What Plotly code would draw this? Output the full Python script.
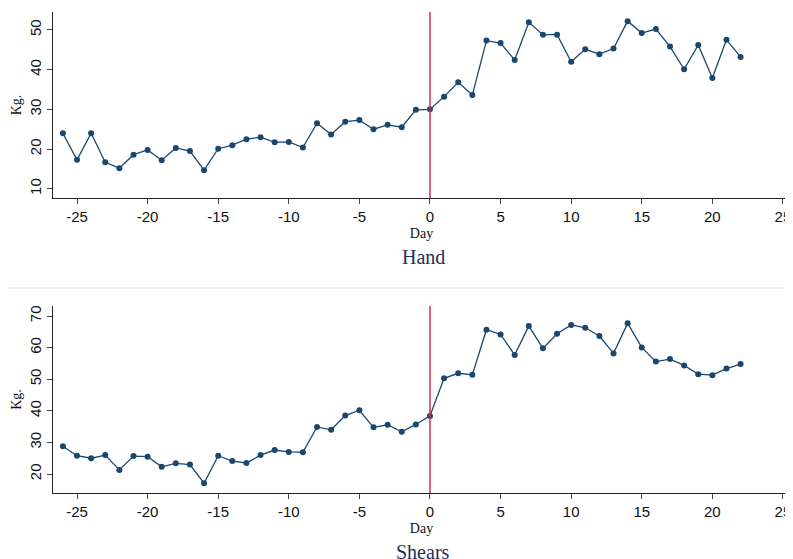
import plotly.graph_objects as go

days = list(range(-26, 23))
hand = [24, 17.3, 24, 16.7, 15.2, 18.6, 19.8, 17.2, 20.3, 19.5, 14.7, 20.1, 21, 22.5, 23,
        21.7, 21.8, 20.4, 26.5, 23.7, 26.9, 27.3, 25, 26.1, 25.5, 29.9, 30, 33.2, 36.8, 33.6,
        47.3, 46.7, 42.4, 51.9, 48.8, 48.8, 42, 45.1, 43.9, 45.3, 52.2, 49.2, 50.2, 45.8,
        40.1, 46.2, 37.9, 47.5, 43.2]
shears = [28.8, 25.8, 25, 26, 21.3, 25.7, 25.5, 22.3, 23.4, 23, 17.1, 25.8, 24.1, 23.5, 26,
          27.6, 27, 26.9, 34.9, 34, 38.5, 40.2, 34.8, 35.6, 33.4, 35.7, 38.4, 50.3, 51.9, 51.4,
          65.7, 64.2, 57.7, 66.9, 59.8, 64.4, 67.2, 66.3, 63.7, 58.2, 67.7, 60.1, 55.6, 56.4,
          54.4, 51.6, 51.3, 53.4, 54.8]
xticks = list(range(-25, 26, 5))
xlabels = [str(v) for v in xticks]  # plain hyphen minus, as in the original

W, H, OFF = 793, 559, 8  # page body margin shifts the figure by ~8px

def px(x):
    return (x - OFF) / W

def py(y):
    return 1 - (y - OFF) / H

navy = "#1a476f"
fig = go.Figure()
fig.add_trace(go.Scatter(x=days, y=hand, mode="lines+markers", line=dict(color=navy, width=1.3),
                         marker=dict(size=6, color=navy), xaxis="x", yaxis="y"))
fig.add_trace(go.Scatter(x=days, y=shears, mode="lines+markers", line=dict(color=navy, width=1.3),
                         marker=dict(size=6, color=navy), xaxis="x2", yaxis="y2"))

tickfont = dict(family="Liberation Sans", size=15, color="#111")
titlefont = dict(family="Liberation Serif", size=14, color="#111")
xax = dict(range=[-26.7, 25.5], tickvals=xticks, ticktext=xlabels, ticks="outside", ticklen=5,
           showgrid=False, zeroline=False, showline=True, linecolor="#222", tickfont=tickfont,
           automargin=False, title=dict(text="Day", font=titlefont, standoff=4))
yax = dict(ticks="outside", ticklen=5, showgrid=False, zeroline=False, showline=True,
           linecolor="#222", tickfont=tickfont, tickangle=-90, automargin=False,
           title=dict(text="Kg.", font=titlefont, standoff=2))

fig.update_layout(
    width=W, height=H, margin=dict(l=0, r=0, t=0, b=0),
    paper_bgcolor="white", plot_bgcolor="white", showlegend=False,
    xaxis=dict(xax, domain=[px(53), px(790)], anchor="y"),
    yaxis=dict(yax, domain=[py(198), py(12)], range=[7.7, 54.5], tickvals=[10, 20, 30, 40, 50], anchor="x"),
    xaxis2=dict(xax, domain=[px(53), px(790)], anchor="y2"),
    yaxis2=dict(yax, domain=[py(493), py(306)], range=[14.0, 73.2], tickvals=[20, 30, 40, 50, 60, 70], anchor="x2"),
    shapes=[
        dict(type="line", xref="x", yref="y domain", x0=0, x1=0, y0=0, y1=1, line=dict(color="#d0304a", width=1.5)),
        dict(type="line", xref="x2", yref="y2 domain", x0=0, x1=0, y0=0, y1=1, line=dict(color="#d0304a", width=1.5)),
        dict(type="line", xref="paper", yref="paper", x0=0, x1=1, y0=py(288), y1=py(288),
             line=dict(color="#eef2f2", width=2)),
    ],
    annotations=[
        dict(text="Hand", xref="paper", yref="paper", x=px(423), y=py(257), showarrow=False,
             font=dict(family="Liberation Serif", size=20, color="#1f2f5f")),
        dict(text="Shears", xref="paper", yref="paper", x=px(423), y=py(539), yanchor="top",
             showarrow=False, font=dict(family="Liberation Serif", size=20, color="#1f2f5f")),
    ],
)
fig.write_html("out.html")
